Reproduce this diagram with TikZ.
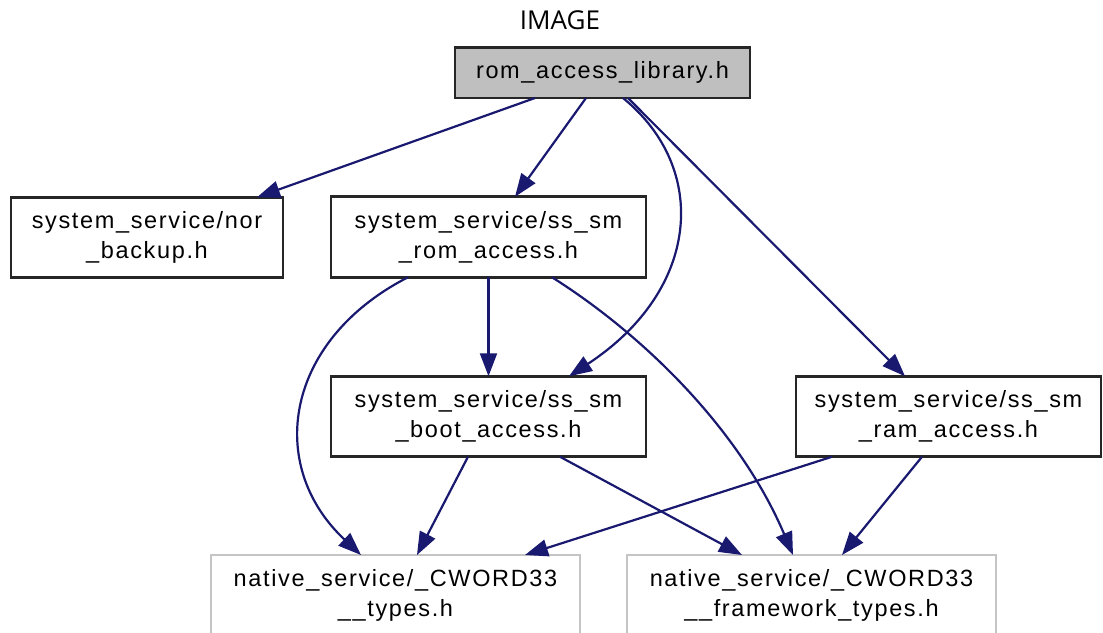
\documentclass[tikz,border=0pt]{standalone}
\usepackage{fontspec}
\setmainfont{Liberation Sans}[LetterSpace=7]
\newfontfamily\titlefont{Open Sans}
\usetikzlibrary{arrows.meta,calc}
\definecolor{edgeblue}{RGB}{25,25,112}
\definecolor{rootgray}{RGB}{191,191,191}
\definecolor{extgray}{RGB}{196,196,196}
\begin{document}
\begin{tikzpicture}[x=1pt,y=-1pt,
  box/.style={draw=black!85, line width=2.8pt, minimum height=80.5pt,
    inner sep=0pt, outer sep=0pt, align=center,
    font=\fontsize{23.5}{30}\selectfont, text=black},
  rootbox/.style={box, fill=rootgray, minimum height=50.5pt},
  extbox/.style={box, draw=extgray, line width=1.8pt, minimum height=81pt},
  dep/.style={draw=edgeblue, line width=2.2pt,
    -{Triangle[length=23pt,width=17pt]}}]
\useasboundingbox (0,0) rectangle (1103,632);
\clip (0,0) rectangle (1103,632);

% title
\node[font=\titlefont\fontsize{26}{30}\selectfont, anchor=base, inner sep=0pt]
  (title) at (560,29) {IMAGE};

% header files
\node[rootbox, minimum width=295pt] (root) at (602.5,72.75) {rom\_access\_library.h};
\node[box, minimum width=272pt] (nor) at (147,237.5) {system\_service/nor\\\_backup.h};
\node[box, minimum width=315pt] (rom) at (488.5,237) {system\_service/ss\_sm\\\_rom\_access.h};
\node[box, minimum width=315pt] (boot) at (488.5,416.5) {system\_service/ss\_sm\\\_boot\_access.h};
\node[box, minimum width=305pt] (ram) at (948.5,416.5) {system\_service/ss\_sm\\\_ram\_access.h};
\node[extbox, minimum width=369pt] (types) at (395.5,595.5) {native\_service/\_CWORD33\\\_\_types.h};
\node[extbox, minimum width=369pt] (fw) at (811.5,595.5) {native\_service/\_CWORD33\\\_\_framework\_types.h};

% include dependencies
\draw[dep] ([xshift=-67.5pt]root.south) -- ([xshift=110pt]nor.north);
\draw[dep] ([xshift=-16.5pt]root.south) -- ([xshift=26.5pt]rom.north);
\draw[dep] ([xshift=20.5pt]root.south) .. controls +(87,71) and +(131,-86) .. ([xshift=80.5pt]boot.north);
\draw[dep] ([xshift=25.5pt]root.south) -- ([xshift=-43.5pt]ram.north);

\draw[dep] ([xshift=-80.5pt]rom.south) .. controls +(-123,63) and +(-96,-90) .. ([xshift=-34.5pt]types.north);
\draw[dep] (rom.south) -- (boot.north);
\draw[dep] ([xshift=63.5pt]rom.south) .. controls +(92,58) and +(-53,-125) .. ([xshift=-18.5pt]fw.north);

\draw[dep] ([xshift=-20.5pt]boot.south) -- ([xshift=21.5pt]types.north);
\draw[dep] ([xshift=71.5pt]boot.south) -- ([xshift=-69.5pt]fw.north);

\draw[dep] ([xshift=-116.5pt]ram.south) -- ([xshift=129.5pt]types.north);
\draw[dep] ([xshift=-26.5pt]ram.south) -- ([xshift=30.5pt]fw.north);
\end{tikzpicture}
\end{document}
